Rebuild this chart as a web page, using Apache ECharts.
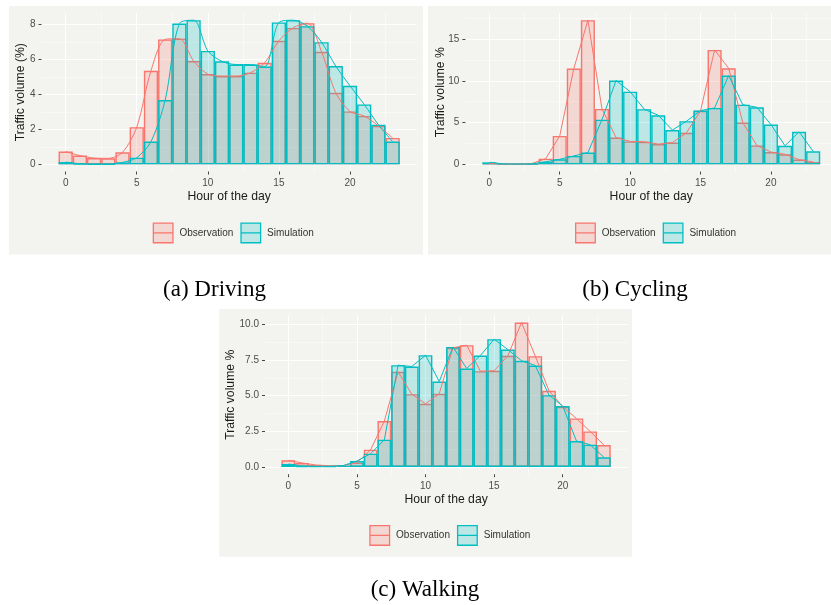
<!DOCTYPE html>
<html><head><meta charset="utf-8">
<script src="https://cdn.jsdelivr.net/npm/echarts@6/dist/echarts.min.js"></script>
<style>html,body{margin:0;padding:0;background:#fff}#c{width:831px;height:605px}</style>
</head><body><div id="c"></div>
<script>
// ---- data ----
const hours = [0,1,2,3,4,5,6,7,8,9,10,11,12,13,14,15,16,17,18,19,20,21,22,23];
const drivingObs = [0.73,0.50,0.36,0.34,0.69,2.13,5.36,7.16,7.20,5.92,5.17,5.06,5.06,5.25,5.82,7.08,7.82,8.09,6.45,4.10,3.03,2.77,2.20,1.51];
const drivingSim = [0.13,0.03,0.01,0.01,0.11,0.38,1.30,3.68,8.07,8.26,6.50,5.90,5.72,5.72,5.60,8.13,8.26,7.92,7.00,5.63,4.50,3.43,2.27,1.30];
const cyclingObs = [0.10,0.05,0.03,0.08,0.67,3.40,11.47,17.26,6.63,3.20,2.74,2.70,2.42,2.60,3.77,6.40,13.70,11.50,5.00,2.26,1.47,1.20,0.56,0.28];
const cyclingSim = [0.24,0.05,0.03,0.05,0.30,0.60,1.00,1.40,5.35,10.04,8.70,6.60,5.87,4.10,5.16,6.43,6.75,10.63,7.14,6.83,4.76,2.22,3.89,1.55];
const walkingObs = [0.47,0.28,0.14,0.09,0.09,0.30,1.21,3.22,6.67,5.10,4.43,5.13,8.35,8.53,6.71,6.74,7.79,10.12,7.76,5.34,4.22,3.40,2.49,1.54];
const walkingSim = [0.21,0.07,0.05,0.05,0.10,0.42,0.93,1.91,7.13,7.04,7.83,5.99,8.41,6.90,7.81,8.95,8.23,7.44,7.11,5.03,4.27,1.82,1.56,0.68];

// ---- ticks ----
const xTicks = [0,5,10,15,20];
const xMinor = [2.5,7.5,12.5,17.5,22.5];
const drivingYTicks = [0,2,4,6,8];
const drivingYMinor = [1,3,5,7];
const cyclingYTicks = [0,5,10,15];
const cyclingYMinor = [2.5,7.5,12.5,17.5];
const walkingYTicks = [0,2.5,5,7.5,10];
const walkingYMinor = [1.25,3.75,6.25,8.75];
const seriesNames = ['Observation','Simulation'];

const OBS = '#F8766D', SIM = '#00BFC4';
const OBS_FILL = 'rgba(248,118,109,0.22)', SIM_FILL = 'rgba(0,191,196,0.22)';
const BG = '#F3F3EF';
const FONT = '"Liberation Sans", Arial, Helvetica, sans-serif';

const panels = [
  {obs: drivingObs, sim: drivingSim, yTicks: drivingYTicks, yMinor: drivingYMinor,
   yName: 'Traffic volume (%)', yNameGap: 14.5, fmt: v => String(v), smooth: 0.3,
   grid: {left: 41.5, top: 13, width: 375.3, height: 158.5},
   bg: [9, 6, 414, 248.5], legend: {left: 152.7, top: 222.5},
   caption: {text: '(a) Driving', x: 214.5, y: 289.5}},
  {obs: cyclingObs, sim: cyclingSim, yTicks: cyclingYTicks, yMinor: cyclingYMinor,
   yName: 'Traffic volume %', yNameGap: 19, fmt: v => String(v), smooth: false,
   grid: {left: 465.4, top: 13, width: 371.7, height: 158.5},
   bg: [428, 6, 405, 248.5], legend: {left: 575, top: 222.5},
   caption: {text: '(b) Cycling', x: 635, y: 289.5}},
  {obs: walkingObs, sim: walkingSim, yTicks: walkingYTicks, yMinor: walkingYMinor,
   yName: 'Traffic volume %', yNameGap: 28.5, fmt: v => v.toFixed(1), smooth: false,
   grid: {left: 265, top: 315.3, width: 362.2, height: 158.9},
   bg: [219.3, 309, 412.7, 247.7], legend: {left: 369.3, top: 525},
   caption: {text: '(c) Walking', x: 425, y: 590}}
];

const grid = [], xAxis = [], yAxis = [], series = [], legend = [], graphic = [];

panels.forEach((p, i) => {
  const yMaxData = Math.max(...p.obs, ...p.sim);
  const yMin = -0.05 * yMaxData, yMax = 1.05 * yMaxData;
  grid.push(Object.assign({containLabel: false, outerBoundsMode: 'none'}, p.grid));

  const tickStyle = {show: true, length: 3, inside: false, lineStyle: {color: '#333333', width: 0.9}};
  xAxis.push({
    type: 'value', gridIndex: i, min: -1.7, max: 24.7, position: 'bottom',
    axisLine: {show: false, onZero: false},
    axisTick: Object.assign({customValues: xTicks}, tickStyle),
    axisLabel: {show: true, customValues: xTicks, margin: 7, fontSize: 10, color: '#4D4D4D', fontFamily: FONT},
    splitLine: {show: true, lineStyle: {color: '#FFFFFF', width: 1}},
    name: 'Hour of the day', nameLocation: 'middle', nameGap: 19.5, nameMoveOverlap: false,
    nameTextStyle: {fontSize: 12.2, color: '#1A1A1A', fontFamily: FONT}
  });
  xAxis.push({
    type: 'value', gridIndex: i, min: -1.7, max: 24.7, position: 'top',
    axisLine: {show: false, onZero: false}, axisTick: {show: false, customValues: xMinor}, axisLabel: {show: false},
    splitLine: {show: true, lineStyle: {color: '#FFFFFF', width: 0.5}}
  });
  yAxis.push({
    type: 'value', gridIndex: i, min: yMin, max: yMax, position: 'left',
    axisLine: {show: false, onZero: false},
    axisTick: Object.assign({customValues: p.yTicks}, tickStyle),
    axisLabel: {show: true, customValues: p.yTicks, margin: 6, fontSize: 10, color: '#4D4D4D', fontFamily: FONT, formatter: p.fmt},
    splitLine: {show: true, lineStyle: {color: '#FFFFFF', width: 1}},
    name: p.yName, nameLocation: 'middle', nameRotate: 90, nameGap: p.yNameGap, nameMoveOverlap: false,
    nameTextStyle: {fontSize: 12.2, color: '#1A1A1A', fontFamily: FONT}
  });
  yAxis.push({
    type: 'value', gridIndex: i, min: yMin, max: yMax, position: 'right',
    axisLine: {show: false, onZero: false}, axisTick: {show: false, customValues: p.yMinor}, axisLabel: {show: false},
    splitLine: {show: true, lineStyle: {color: '#FFFFFF', width: 0.5}}
  });

  const xi = 2 * i, yi = 2 * i;
  const pairs = arr => hours.map((h, k) => [h, arr[k]]);
  series.push({type: 'bar', name: seriesNames[0], xAxisIndex: xi, yAxisIndex: yi, data: pairs(p.obs),
    barWidth: '100%', barGap: '-100%', z: 2, silent: true,
    itemStyle: {color: OBS_FILL, borderColor: OBS, borderWidth: 1.4}});
  series.push({type: 'bar', name: seriesNames[1], xAxisIndex: xi, yAxisIndex: yi, data: pairs(p.sim),
    barWidth: '100%', barGap: '-100%', z: 2, silent: true,
    itemStyle: {color: SIM_FILL, borderColor: SIM, borderWidth: 1.4}});
  series.push({type: 'line', name: seriesNames[0], xAxisIndex: xi, yAxisIndex: yi, data: pairs(p.obs),
    showSymbol: false, smooth: p.smooth, z: 3, silent: true,
    lineStyle: {color: OBS, width: 1}, itemStyle: {color: OBS}});
  series.push({type: 'line', name: seriesNames[1], xAxisIndex: xi, yAxisIndex: yi, data: pairs(p.sim),
    showSymbol: false, smooth: p.smooth, z: 3, silent: true,
    lineStyle: {color: SIM, width: 1}, itemStyle: {color: SIM}});

  legend.push({
    left: p.legend.left, top: p.legend.top, orient: 'horizontal', padding: 0,
    itemWidth: 19.6, itemHeight: 19.6, itemGap: 7, selectedMode: false,
    icon: 'path://M0,0L20,0L20,20L0,20Z M0,10L20,10',
    textStyle: {fontSize: 10, color: '#333333', fontFamily: FONT, padding: [0, 0, 0, 1.5]},
    data: [
      {name: seriesNames[0], itemStyle: {color: OBS_FILL, borderColor: OBS, borderWidth: 1.3}},
      {name: seriesNames[1], itemStyle: {color: SIM_FILL, borderColor: SIM, borderWidth: 1.3}}
    ]
  });

  graphic.push({type: 'rect', z: -10, silent: true,
    shape: {x: p.bg[0], y: p.bg[1], width: p.bg[2], height: p.bg[3]}, style: {fill: BG}});
  graphic.push({type: 'text', z: 10, silent: true, x: p.caption.x, y: p.caption.y,
    style: {text: p.caption.text, fill: '#000000', align: 'center', verticalAlign: 'middle',
      font: '23px "Liberation Serif", "Times New Roman", serif'}});
});

const chart = echarts.init(document.getElementById('c'), null, {renderer: 'canvas'});
chart.setOption({
  backgroundColor: '#FFFFFF',
  animation: false,
  grid, xAxis, yAxis, series, legend, graphic
});
</script>
</body></html>
